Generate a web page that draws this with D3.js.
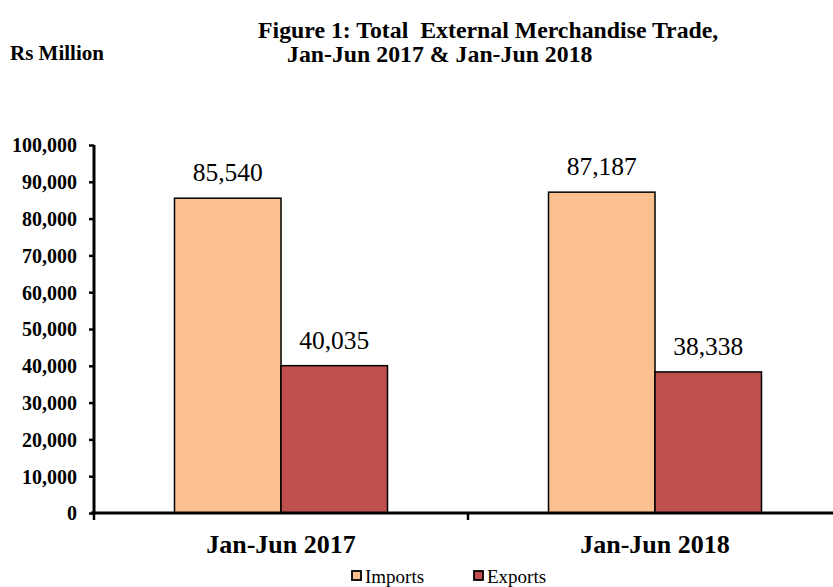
<!DOCTYPE html>
<html><head><meta charset="utf-8">
<script src="https://cdn.jsdelivr.net/npm/d3@7"></script>
<style>body{margin:0;background:#fff}svg{display:block;font-family:"Liberation Serif","Times New Roman",serif}</style>
</head><body><svg id="c" width="833" height="587"></svg>
<script>
const categories = ["Jan-Jun 2017", "Jan-Jun 2018"];
const seriesNames = ["Imports", "Exports"];
const imports = [85540, 87187];
const exports = [40035, 38338];
const yTicks = [0,10000,20000,30000,40000,50000,60000,70000,80000,90000,100000];
const colors = ["#FAC090", "#C0504D"];

const svg = d3.select("#c");
const x0 = d3.scaleBand().domain(categories).range([94, 842]).paddingInner(0).paddingOuter(0);
const x1 = d3.scaleBand().domain(seriesNames).range([0, 213]);
const y = d3.scaleLinear().domain([0, 100000]).range([513, 145]);
const fmt = d3.format(",");

// bars
const data = categories.map((c,i)=>({cat:c, vals:[{s:"Imports",v:imports[i]},{s:"Exports",v:exports[i]}]}));
const g = svg.selectAll("g.grp").data(data).enter().append("g")
  .attr("transform", d=>`translate(${x0(d.cat)+x0.bandwidth()/2-106.5},0)`);
g.selectAll("rect").data(d=>d.vals).enter().append("rect")
  .attr("x", d=>x1(d.s)).attr("width", x1.bandwidth())
  .attr("y", d=>y(d.v)).attr("height", d=>y(0)-y(d.v))
  .attr("fill", (d,i)=>colors[i]).attr("stroke","#000").attr("stroke-width",1.5);
g.selectAll("text.lbl").data(d=>d.vals).enter().append("text")
  .attr("x", d=>x1(d.s)+x1.bandwidth()/2).attr("y", d=>y(d.v)-17)
  .attr("text-anchor","middle").attr("font-size","25.5px").text(d=>fmt(d.v));

// y axis
const ya = svg.append("g").attr("transform","translate(94,0)")
  .call(d3.axisLeft(y).tickValues(yTicks).tickFormat(fmt).tickSizeInner(5).tickSizeOuter(0).tickPadding(12));
ya.select(".domain").attr("stroke-width",3).attr("d","M0,145V514");
ya.selectAll(".tick line").attr("stroke-width",2.5);
ya.selectAll(".tick text").attr("font-size","20px").attr("font-weight","bold")
  .attr("font-family","Liberation Serif, serif").attr("fill","#000").attr("dy","0.34em");

// x axis
const xa = svg.append("g").attr("transform","translate(0,513)")
  .call(d3.axisBottom(x0).tickValues([]).tickSizeOuter(0));
xa.select(".domain").attr("stroke-width",3).attr("d","M91,0H842");
xa.selectAll(".sep").data([94, 468]).enter().append("line").attr("class","sep")
  .attr("x1",d=>d).attr("x2",d=>d).attr("y1",0).attr("y2",7).attr("stroke","#000").attr("stroke-width",2.5);
svg.selectAll("text.cat").data(categories).enter().append("text")
  .attr("x", d=>x0(d)+x0.bandwidth()/2).attr("y",553)
  .attr("text-anchor","middle").attr("font-size","26px").attr("font-weight","bold").text(d=>d);

// titles
svg.append("text").attr("x",258).attr("y",38).attr("font-size","23.8px").attr("font-weight","bold")
  .attr("xml:space","preserve").style("white-space","pre").text("Figure 1: Total  External Merchandise Trade,");
svg.append("text").attr("x",287).attr("y",62).attr("font-size","23.8px").attr("font-weight","bold").text("Jan-Jun 2017 & Jan-Jun 2018");
svg.append("text").attr("x",10).attr("y",60).attr("font-size","21px").attr("font-weight","bold").text("Rs Million");

// legend
const lx = [352, 474];
const lg = svg.selectAll("g.leg").data(seriesNames).enter().append("g")
  .attr("transform",(d,i)=>`translate(${lx[i]},576)`);
lg.append("rect").attr("width",9).attr("height",9).attr("y",-5).attr("fill",(d,i)=>colors[i]).attr("stroke","#000").attr("stroke-width",1.8);
lg.append("text").attr("x",13).attr("y",7).attr("font-size","19px").text(d=>d);
</script></body></html>
